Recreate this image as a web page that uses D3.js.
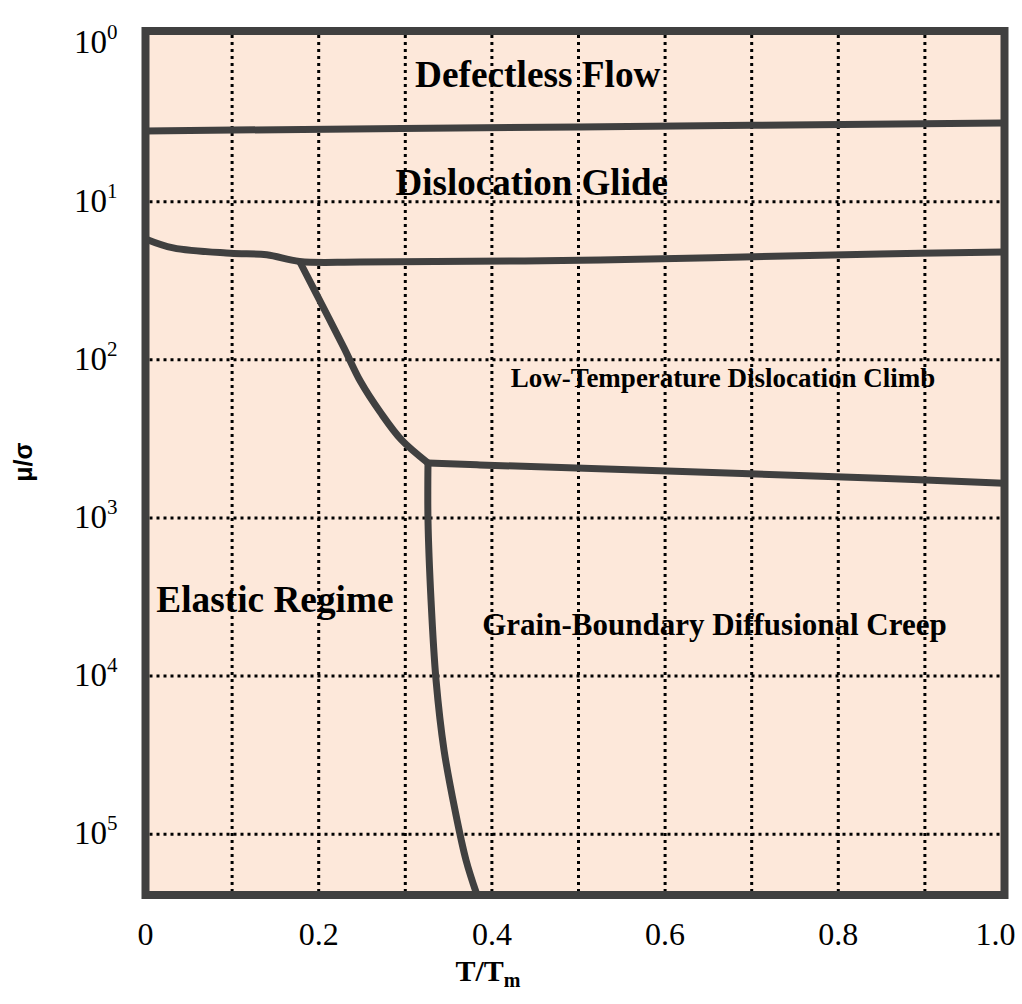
<!DOCTYPE html>
<html>
<head>
<meta charset="utf-8">
<script src="https://cdn.jsdelivr.net/npm/d3@7"></script>
<style>
  body { margin: 0; background: #fff; }
  text { font-family: 'Liberation Serif', 'Times New Roman', serif; }
</style>
</head>
<body>
<div id="chart"></div>
<script>
// data: [T/Tm, mu/sigma]
const defectlessEdge = [[0, 3.57], [0.5, 3.37], [0.99, 3.18]]
const glideEdge = [[0, 17.2], [0.032, 19.6], [0.098, 21.2], [0.14, 21.7], [0.178, 23.9],
  [0.248, 24.1], [0.525, 23.4], [0.848, 21.4], [0.991, 20.8]]
const elasticTopEdge = [[0.178, 23.9], [0.2038, 45.0], [0.2292, 84.1], [0.2483, 137.3],
  [0.2714, 215.6], [0.2956, 321], [0.3262, 449]]
const climbEdge = [[0.3262, 449], [0.386, 462], [0.848, 561], [0.991, 604]]
const elasticSideEdge = [[0.3262, 449], [0.3262, 1030], [0.3297, 3300], [0.3355, 10600],
  [0.3447, 29300], [0.3574, 70300], [0.3701, 145600], [0.3828, 242000]]

const xTicks = [0, 0.2, 0.4, 0.6, 0.8, 1.0]
const xTickLabels = ['0', '0.2', '0.4', '0.6', '0.8', '1.0']
const xGrid = [0.1, 0.2, 0.3, 0.4, 0.5, 0.6, 0.7, 0.8, 0.9]
const yTicks = [1, 10, 100, 1000, 10000, 100000]
const yExps = ['0', '1', '2', '3', '4', '5']
const yGrid = [10, 100, 1000, 10000, 100000]

const regionNames = ['Defectless Flow', 'Dislocation Glide', 'Low-Temperature Dislocation Climb',
  'Elastic Regime', 'Grain-Boundary Diffusional Creep']
const regionT = [0.453, 0.446, 0.667, 0.1495, 0.657]
const regionS = [1.876, 9.07, 148.6, 3926, 5480]
const regionSize = [37.3, 37, 27, 37.3, 31]

let margin = { top: 31, left: 145.5 }
let width = 859
let height = 864

let svg = d3.select('#chart')
  .append('svg')
  .attr('width', 1022)
  .attr('height', 1004)
  .append('g')
  .attr('transform', `translate(${margin.left}, ${margin.top})`)

let x = d3.scaleLinear().domain([0, 1]).range([0, 866])
let y = d3.scaleLog().domain([0.834, 242100]).range([0, height])

svg.append('clipPath').attr('id', 'plot-clip')
  .append('rect').attr('width', width).attr('height', height)

svg.append('rect')
  .attr('width', width)
  .attr('height', height)
  .attr('fill', '#fde8da')

// region labels
svg.append('g')
  .selectAll('text')
  .data(regionNames)
  .enter()
  .append('text')
  .attr('x', (d, i) => x(regionT[i]))
  .attr('y', (d, i) => y(regionS[i]))
  .attr('text-anchor', 'middle')
  .attr('font-weight', 'bold')
  .attr('font-size', (d, i) => regionSize[i])
  .text(d => d)

// dotted grid
let grid = svg.append('g')
  .attr('stroke', '#000')
  .attr('stroke-width', 3)
  .attr('stroke-dasharray', '3,4')
grid.selectAll('.vgrid')
  .data(xGrid)
  .enter()
  .append('line')
  .attr('x1', d => x(d)).attr('x2', d => x(d))
  .attr('y1', 4).attr('y2', height - 4)
grid.selectAll('.hgrid')
  .data(yGrid)
  .enter()
  .append('line')
  .attr('y1', d => y(d)).attr('y2', d => y(d))
  .attr('x1', 4).attr('x2', width - 4)

// boundaries
let line = d3.line()
  .x(d => x(d[0]))
  .y(d => y(d[1]))
  .curve(d3.curveCatmullRom.alpha(0.5))

svg.append('g')
  .attr('clip-path', 'url(#plot-clip)')
  .selectAll('path')
  .data([defectlessEdge, glideEdge, elasticTopEdge, climbEdge, elasticSideEdge])
  .enter()
  .append('path')
  .attr('d', line)
  .attr('fill', 'none')
  .attr('stroke', '#404040')
  .attr('stroke-width', 7)
  .attr('stroke-linejoin', 'round')

svg.append('rect')
  .attr('width', width)
  .attr('height', height)
  .attr('fill', 'none')
  .attr('stroke', '#404040')
  .attr('stroke-width', 8)

// x tick labels
svg.append('g')
  .selectAll('text')
  .data(xTicks)
  .enter()
  .append('text')
  .attr('x', (d, i) => i === xTicks.length - 1 ? x(d) + 4 : x(d))
  .attr('y', height + 50)
  .attr('text-anchor', (d, i) => i === xTicks.length - 1 ? 'end' : 'middle')
  .attr('font-size', 32)
  .text((d, i) => xTickLabels[i])

// y tick labels, 10^n
let yl = svg.append('g')
  .selectAll('text')
  .data(yTicks)
  .enter()
  .append('text')
  .attr('x', -28)
  .attr('y', d => Math.max(y(d), -4) + 10)
  .attr('text-anchor', 'end')
  .attr('font-size', 33)
yl.append('tspan').text('10')
yl.append('tspan')
  .attr('dy', -14)
  .attr('font-size', 21)
  .text((d, i) => yExps[i])

// axis titles
let xt = svg.append('text')
  .attr('x', 488 - margin.left)
  .attr('y', height + 86)
  .attr('text-anchor', 'middle')
  .attr('font-weight', 'bold')
  .attr('font-size', 30)
xt.append('tspan').text('T/T')
xt.append('tspan').attr('dy', 6).attr('font-size', 20).text('m')

svg.append('text')
  .attr('transform', `translate(${32 - margin.left}, ${462 - margin.top}) rotate(-90)`)
  .attr('text-anchor', 'middle')
  .attr('font-weight', 'bold')
  .attr('font-size', 25)
  .style('font-family', "'Liberation Sans', Arial, sans-serif")
  .text('μ/σ')
</script>
</body>
</html>
